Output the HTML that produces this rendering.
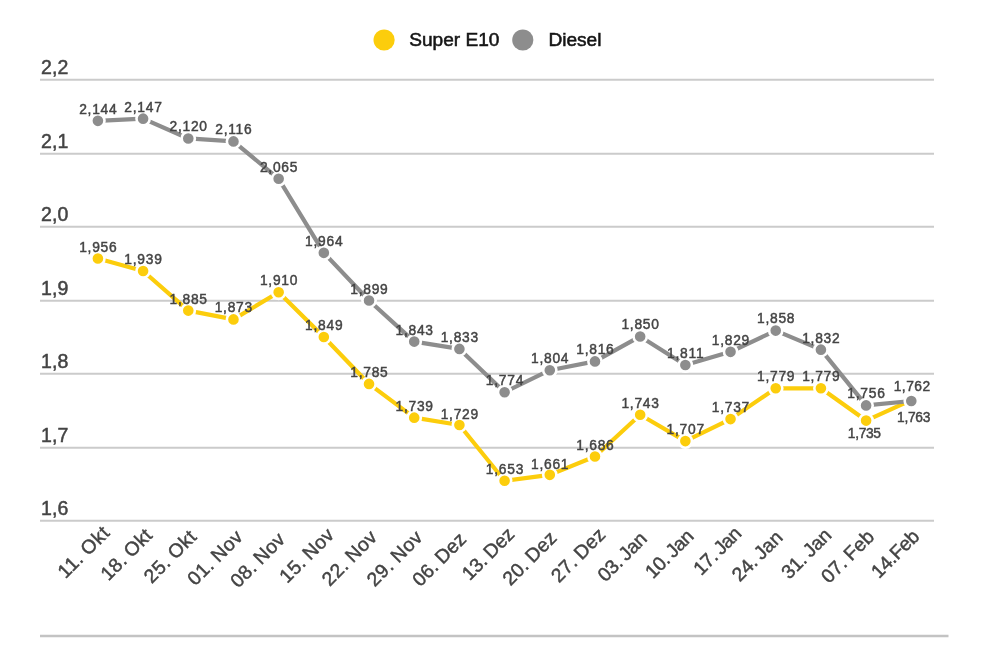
<!DOCTYPE html>
<html lang="de">
<head>
<meta charset="utf-8">
<title>Kraftstoffpreise: Super E10 und Diesel</title>
<style>
html,body{margin:0;padding:0;background:#fff;}
body{width:990px;height:660px;overflow:hidden;}
svg{display:block;font-family:"Liberation Sans", "DejaVu Sans", sans-serif;}
.grid line{stroke:#cbcbcb;stroke-width:2;}
.ylab text{font-size:19.5px;letter-spacing:.1px;fill:#444444;stroke:#444444;stroke-width:.5;}
.xlab text{font-size:19.4px;word-spacing:-1.2px;fill:#444444;stroke:#444444;stroke-width:.45;text-anchor:middle;}
.dlab text{font-size:13.8px;letter-spacing:.75px;fill:#444444;stroke:#444444;stroke-width:.45;text-anchor:middle;}
.legend text{font-size:19.1px;fill:#141414;stroke:#141414;stroke-width:.55;}
.s1 polyline{fill:none;stroke:#fccd0c;stroke-width:4.2;stroke-linejoin:round;stroke-linecap:round;}
.s2 polyline{fill:none;stroke:#8d8d8d;stroke-width:4.2;stroke-linejoin:round;stroke-linecap:round;}
.s1 circle{fill:#fccd0c;stroke:#fff;stroke-width:2.6;}
.s2 circle{fill:#8d8d8d;stroke:#fff;stroke-width:2.6;}
</style>
</head>
<body>
<svg width="990" height="660" viewBox="0 0 990 660">
<rect width="990" height="660" fill="#ffffff"/>

<g class="grid">
<line x1="40.0" y1="79.80" x2="934" y2="79.80"/>
<line x1="40.0" y1="153.80" x2="934" y2="153.80"/>
<line x1="40.0" y1="226.80" x2="934" y2="226.80"/>
<line x1="40.0" y1="300.80" x2="934" y2="300.80"/>
<line x1="40.0" y1="373.80" x2="934" y2="373.80"/>
<line x1="40.0" y1="447.80" x2="934" y2="447.80"/>
<line x1="40.0" y1="520.80" x2="934" y2="520.80"/>
<line x1="40.0" y1="636.05" x2="948.5" y2="636.05" style="stroke-width:2.6;stroke:#c3c3c3"/>
</g>
<g class="ylab">
<text x="41.1" y="73.50">2,2</text>
<text x="41.1" y="147.50">2,1</text>
<text x="41.1" y="220.50">2,0</text>
<text x="41.1" y="294.50">1,9</text>
<text x="41.1" y="367.50">1,8</text>
<text x="41.1" y="441.50">1,7</text>
<text x="41.1" y="514.50">1,6</text>
</g>
<g class="xlab">
<text transform="translate(88.18 556.58) rotate(-45)" letter-spacing="0.65">11. Okt</text>
<text transform="translate(131.00 558.98) rotate(-45)" letter-spacing="0.37">18. Okt</text>
<text transform="translate(174.88 560.93) rotate(-45)" letter-spacing="0.63">25. Okt</text>
<text transform="translate(219.71 562.17) rotate(-45)" letter-spacing="0.49">01. Nov</text>
<text transform="translate(262.35 564.57) rotate(-45)" letter-spacing="0.38">08. Nov</text>
<text transform="translate(311.37 559.95) rotate(-45)" letter-spacing="0.33">15. Nov</text>
<text transform="translate(354.12 562.52) rotate(-45)" letter-spacing="0.50">22. Nov</text>
<text transform="translate(399.43 562.87) rotate(-45)" letter-spacing="0.56">29. Nov</text>
<text transform="translate(443.81 563.95) rotate(-45)" letter-spacing="0.17">06. Dez</text>
<text transform="translate(492.56 558.43) rotate(-45)" letter-spacing="-0.12">13. Dez</text>
<text transform="translate(534.22 562.77) rotate(-45)" letter-spacing="0.22">20. Dez</text>
<text transform="translate(582.87 559.57) rotate(-45)" letter-spacing="0.25">27. Dez</text>
<text transform="translate(626.72 561.48) rotate(-45)" letter-spacing="-0.32">03. Jan</text>
<text transform="translate(673.70 558.63) rotate(-45)" letter-spacing="-0.52">10. Jan</text>
<text transform="translate(721.69 555.62) rotate(-45)" letter-spacing="-0.61">17. Jan</text>
<text transform="translate(761.79 560.65) rotate(-45)" letter-spacing="-0.05">24. Jan</text>
<text transform="translate(810.79 558.25) rotate(-45)" letter-spacing="-0.17">31. Jan</text>
<text transform="translate(852.21 561.10) rotate(-45)" letter-spacing="0.17">07. Feb</text>
<text transform="translate(899.74 558.46) rotate(-45)" letter-spacing="-0.30">14.Feb</text>
</g>
<g class="s1"><polyline points="97.90,258.53 143.09,270.99 188.28,310.59 233.47,319.39 278.66,292.26 323.84,336.99 369.03,383.92 414.22,417.65 459.41,424.98 504.60,480.72 549.79,474.85 594.98,456.52 640.17,414.72 685.36,441.12 730.54,419.12 775.73,388.32 820.92,388.32 866.11,420.58 911.30,400.05"/>
<circle cx="97.90" cy="258.53" r="6.6"/>
<circle cx="143.09" cy="270.99" r="6.6"/>
<circle cx="188.28" cy="310.59" r="6.6"/>
<circle cx="233.47" cy="319.39" r="6.6"/>
<circle cx="278.66" cy="292.26" r="6.6"/>
<circle cx="323.84" cy="336.99" r="6.6"/>
<circle cx="369.03" cy="383.92" r="6.6"/>
<circle cx="414.22" cy="417.65" r="6.6"/>
<circle cx="459.41" cy="424.98" r="6.6"/>
<circle cx="504.60" cy="480.72" r="6.6"/>
<circle cx="549.79" cy="474.85" r="6.6"/>
<circle cx="594.98" cy="456.52" r="6.6"/>
<circle cx="640.17" cy="414.72" r="6.6"/>
<circle cx="685.36" cy="441.12" r="6.6"/>
<circle cx="730.54" cy="419.12" r="6.6"/>
<circle cx="775.73" cy="388.32" r="6.6"/>
<circle cx="820.92" cy="388.32" r="6.6"/>
<circle cx="866.11" cy="420.58" r="6.6"/>
<circle cx="911.30" cy="400.05" r="6.6"/>
</g>
<g class="s2"><polyline points="97.90,120.86 143.09,118.66 188.28,138.46 233.47,141.40 278.66,178.80 323.84,252.86 369.03,300.52 414.22,341.59 459.41,348.92 504.60,392.19 549.79,370.19 594.98,361.39 640.17,336.46 685.36,365.05 730.54,351.85 775.73,330.59 820.92,349.65 866.11,405.39 911.30,400.99"/>
<circle cx="97.90" cy="120.86" r="6.6"/>
<circle cx="143.09" cy="118.66" r="6.6"/>
<circle cx="188.28" cy="138.46" r="6.6"/>
<circle cx="233.47" cy="141.40" r="6.6"/>
<circle cx="278.66" cy="178.80" r="6.6"/>
<circle cx="323.84" cy="252.86" r="6.6"/>
<circle cx="369.03" cy="300.52" r="6.6"/>
<circle cx="414.22" cy="341.59" r="6.6"/>
<circle cx="459.41" cy="348.92" r="6.6"/>
<circle cx="504.60" cy="392.19" r="6.6"/>
<circle cx="549.79" cy="370.19" r="6.6"/>
<circle cx="594.98" cy="361.39" r="6.6"/>
<circle cx="640.17" cy="336.46" r="6.6"/>
<circle cx="685.36" cy="365.05" r="6.6"/>
<circle cx="730.54" cy="351.85" r="6.6"/>
<circle cx="775.73" cy="330.59" r="6.6"/>
<circle cx="820.92" cy="349.65" r="6.6"/>
<circle cx="866.11" cy="405.39" r="6.6"/>
<circle cx="911.30" cy="400.99" r="6.6"/>
</g>
<g class="dlab">
<text x="98.28" y="251.53">1,956</text>
<text x="143.46" y="263.99">1,939</text>
<text x="188.65" y="303.59">1,885</text>
<text x="233.84" y="312.39">1,873</text>
<text x="279.03" y="285.26">1,910</text>
<text x="324.22" y="329.99">1,849</text>
<text x="369.41" y="376.92">1,785</text>
<text x="414.60" y="410.65">1,739</text>
<text x="459.79" y="418.88">1,729</text>
<text x="504.98" y="473.72">1,653</text>
<text x="550.16" y="468.85">1,661</text>
<text x="595.35" y="449.52">1,686</text>
<text x="640.54" y="407.72">1,743</text>
<text x="685.73" y="434.12">1,707</text>
<text x="730.92" y="412.12">1,737</text>
<text x="776.11" y="380.72">1,779</text>
<text x="821.30" y="380.72">1,779</text>
<text x="864.24" y="437.88" style="letter-spacing:-0.35px">1,735</text>
<text x="913.55" y="422.45" style="letter-spacing:-0.3px">1,763</text>
<text x="98.28" y="113.86">2,144</text>
<text x="143.46" y="111.66">2,147</text>
<text x="188.65" y="131.46">2,120</text>
<text x="233.84" y="134.40">2,116</text>
<text x="279.03" y="171.80">2,065</text>
<text x="324.22" y="245.86">1,964</text>
<text x="369.41" y="293.52">1,899</text>
<text x="414.60" y="334.59">1,843</text>
<text x="459.79" y="341.92">1,833</text>
<text x="504.98" y="385.19">1,774</text>
<text x="550.16" y="363.19">1,804</text>
<text x="595.35" y="354.39">1,816</text>
<text x="640.54" y="329.46">1,850</text>
<text x="685.73" y="358.05">1,811</text>
<text x="730.92" y="344.85">1,829</text>
<text x="776.11" y="322.79">1,858</text>
<text x="821.30" y="342.65">1,832</text>
<text x="866.49" y="398.09">1,756</text>
<text x="912.15" y="391.19" style="letter-spacing:0.5px">1,762</text>
</g>
<g class="legend">
<circle cx="384.1" cy="40" r="10.6" fill="#fccd0c"/>
<text x="409.2" y="46.3">Super E10</text>
<circle cx="522.8" cy="40" r="10.6" fill="#8d8d8d"/>
<text x="548.4" y="46.3">Diesel</text>
</g>
</svg>
</body>
</html>
